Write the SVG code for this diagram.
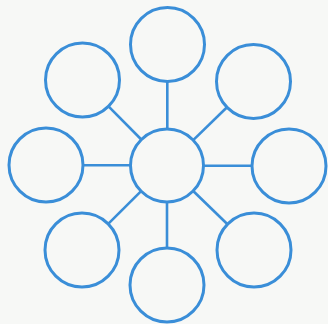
<svg xmlns="http://www.w3.org/2000/svg" width="328" height="324" viewBox="0 0 328 324">
<style>
.n{fill:none;stroke:#3a8ed8;stroke-width:3}
.c line{stroke:#3a8ed8;stroke-width:2.6}
</style>
<rect width="328" height="324" fill="#f7f8f6"/>
<g class="c" id="connectors">
<line x1="167.3" y1="129" x2="167.3" y2="82"/>
<line x1="141.3" y1="139.5" x2="108.5" y2="106.3"/>
<line x1="193.2" y1="140.1" x2="227" y2="107.3"/>
<line x1="130.5" y1="165.3" x2="83" y2="165.3"/>
<line x1="203.5" y1="165.8" x2="252" y2="165.8"/>
<line x1="141.1" y1="191.2" x2="108.2" y2="223.9"/>
<line x1="193.2" y1="191" x2="227.5" y2="224.2"/>
<line x1="167" y1="202" x2="167" y2="248"/>
</g>
<g id="center"><circle class="n" cx="167" cy="165.5" r="36.5"/></g>
<g id="top"><circle class="n" cx="167.5" cy="44.5" r="37"/></g>
<g id="top-left"><circle class="n" cx="82.5" cy="80" r="37"/></g>
<g id="top-right"><circle class="n" cx="253.5" cy="81.5" r="37"/></g>
<g id="left"><circle class="n" cx="46" cy="165" r="37"/></g>
<g id="right"><circle class="n" cx="289" cy="166" r="37"/></g>
<g id="bottom-left"><circle class="n" cx="82" cy="250" r="37"/></g>
<g id="bottom-right"><circle class="n" cx="254" cy="250" r="37"/></g>
<g id="bottom"><circle class="n" cx="167" cy="285" r="37"/></g>
</svg>
